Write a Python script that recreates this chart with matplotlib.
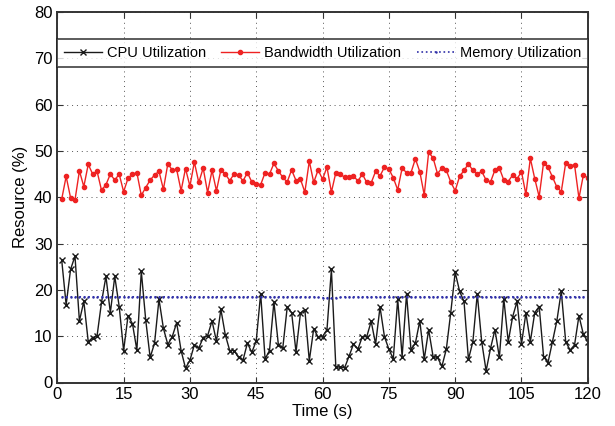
import matplotlib
matplotlib.use('Agg')
import matplotlib.pyplot as plt
import numpy as np

plt.rcParams['font.family'] = ['Liberation Sans', 'DejaVu Sans']

# time in seconds, one sample per second
t = np.arange(1, 121)

cpu = [26.4, 16.8, 24.4, 27.3, 13.3, 17.5, 8.8, 9.7, 10.1, 17.3,
       22.9, 15.1, 22.9, 16.4, 6.9, 14.4, 12.7, 7.0, 24.0, 13.5,
       5.4, 8.5, 18.0, 11.7, 8.2, 9.9, 12.9, 6.9, 3.1, 4.8,
       8.1, 7.4, 9.7, 10.1, 13.3, 8.9, 15.8, 10.3, 6.9, 6.9,
       5.4, 4.8, 8.5, 6.5, 9.0, 19.2, 5.1, 6.9, 17.4, 8.2,
       7.4, 16.2, 15.1, 6.6, 15.0, 15.7, 4.7, 11.6, 9.8, 9.9,
       11.4, 24.4, 3.4, 3.3, 3.2, 5.7, 8.3, 7.2, 9.9, 9.9,
       13.2, 8.3, 16.3, 9.9, 7.2, 5.1, 18.0, 5.6, 19.1, 7.1,
       8.5, 13.3, 5.0, 11.4, 5.6, 5.4, 3.5, 7.2, 15.1, 23.8,
       19.7, 17.5, 5.0, 8.8, 19.1, 8.8, 2.5, 7.4, 11.4, 5.4,
       18.1, 8.8, 14.2, 17.5, 8.3, 15.0, 8.8, 15.1, 16.4, 5.6,
       4.3, 8.8, 13.3, 19.7, 8.8, 7.0, 8.1, 14.4, 10.4, 8.8]

bandwidth = [39.6, 44.5, 39.9, 39.4, 45.7, 42.3, 47.1, 45.0, 45.6, 41.5,
             42.7, 45.0, 43.7, 45.0, 41.2, 44.1, 45.0, 45.3, 40.4, 42.1,
             43.7, 44.8, 45.6, 41.7, 47.2, 45.9, 46.0, 41.4, 46.2, 42.4,
             47.6, 43.2, 46.3, 41.0, 45.8, 41.4, 45.9, 45.0, 43.6, 45.0,
             44.8, 43.5, 45.3, 43.3, 42.9, 42.7, 45.3, 45.0, 47.3, 45.7,
             44.3, 43.3, 45.9, 43.6, 43.9, 41.1, 47.8, 43.2, 45.9, 43.9,
             46.5, 41.1, 45.3, 45.0, 44.3, 44.3, 44.6, 43.5, 45.0, 43.2,
             43.1, 45.6, 44.6, 46.5, 46.1, 44.2, 41.6, 46.3, 45.3, 45.3,
             48.3, 45.5, 40.5, 49.7, 48.5, 45.1, 46.3, 45.8, 43.3, 41.4,
             44.5, 45.8, 47.2, 45.8, 45.0, 45.6, 43.7, 43.3, 45.9, 46.3,
             43.7, 43.4, 44.8, 44.0, 45.5, 40.6, 48.4, 44.0, 40.1, 47.5,
             46.5, 44.4, 42.2, 41.2, 47.4, 46.8, 47.0, 39.8, 44.8, 44.2]

memory = [18.5] * 58 + [18.4, 18.3, 18.3, 18.2, 18.3, 18.4] + [18.5] * 56

fig = plt.figure(figsize=(6.15, 4.26), dpi=100)
ax = fig.add_axes([57.3 / 615, 1 - 382.5 / 426, 530.5 / 615, 370.5 / 426])

ax.plot(t, cpu, color='#1a1a1a', lw=1.0, marker='x', ms=4, mew=1.0,
        label='CPU Utilization')
ax.plot(t, bandwidth, color='#ee2222', lw=1.0, marker='.', ms=6,
        label='Bandwidth Utilization')
ax.plot(t, memory, color='#3030a8', lw=1.2, ls=':', marker='.', ms=1.5,
        label='Memory Utilization')

ax.set_xlim(0, 120)
ax.set_ylim(0, 80)
ax.set_xticks(np.arange(0, 121, 15))
ax.set_yticks(np.arange(0, 81, 10))
ax.grid(True, color='#555555', ls=(0, (1, 4)), lw=0.7)
ax.tick_params(direction='in', labelsize=12, length=4, color='#333333',
               top=True, right=True)
for s in ax.spines.values():
    s.set_linewidth(1.4)
    s.set_color('#333333')

ax.set_xlabel('Time (s)', fontsize=12, labelpad=1)
ax.set_ylabel('Resource (%)', fontsize=12, labelpad=4)

# legend box spans the full axes width, between y=69 and y=74
leg = ax.legend(loc='center left', bbox_to_anchor=(0, 0.8516, 1, 0.0755),
                mode='expand', ncol=3, fontsize=10.5, frameon=True,
                fancybox=False, borderpad=0.45, handlelength=2.6,
                handletextpad=0.35, columnspacing=0.8, borderaxespad=0)
leg.get_frame().set_edgecolor('#222222')
leg.get_frame().set_linewidth(1.3)

fig.savefig('out.png', dpi=100)
